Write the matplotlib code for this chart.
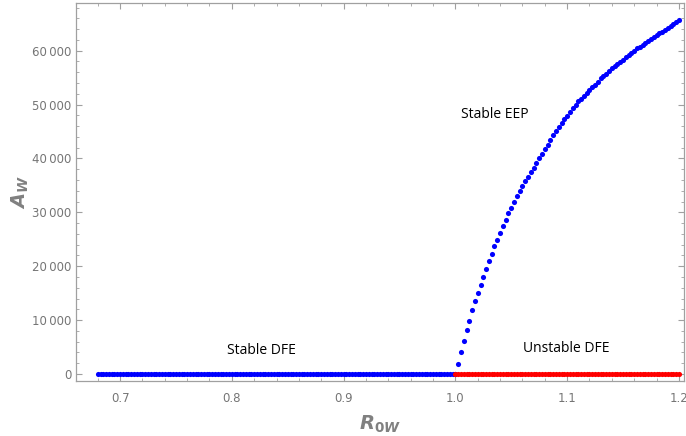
import numpy as np
import matplotlib
matplotlib.use("Agg")
import matplotlib.pyplot as plt
from matplotlib.ticker import MultipleLocator, FuncFormatter

r_step = 0.0025
r_dfe_stable = np.arange(0.68, 1.0 + r_step / 2, r_step)
r_above = np.arange(1.0, 1.2 + r_step / 2, r_step)

# A_W on the disease free branch is zero everywhere
a_dfe_stable = [0] * len(r_dfe_stable)
a_dfe_unstable = [0] * len(r_above)

# A_W on the endemic branch
a_eep = [
    0, 1900, 4000, 6100, 8100, 9900, 11800, 13500, 15000, 16600,
    18000, 19500, 20900, 22300, 23700, 24900, 26200, 27400, 28600, 29800,
    30900, 31900, 32950, 33900, 34850, 35750, 36650, 37450, 38300, 39150,
    40000, 40850, 41700, 42550, 43400, 44300, 45100, 45850, 46600, 47300,
    47950, 48700, 49350, 49980, 50600, 51100, 51650, 52100, 52650, 53200,
    53700, 54200, 54850, 55300, 55750, 56250, 56800, 57200, 57600, 57950,
    58350, 58750, 59100, 59500, 59950, 60400, 60750, 61050, 61400, 61800,
    62200, 62550, 62950, 63250, 63550, 63900, 64250, 64600, 65000, 65350,
    65650,
]

labels = ["Stable DFE", "Stable EEP", "Unstable DFE"]

plt.rcParams["mathtext.fontset"] = "custom"
plt.rcParams["mathtext.it"] = "DejaVu Sans:italic:bold"
plt.rcParams["mathtext.rm"] = "DejaVu Sans:bold"

fig = plt.figure(figsize=(6.86, 4.36), dpi=100)
ax = fig.add_axes([0.111, 0.126, 0.886, 0.867])

ms = 3.7
ax.plot(r_dfe_stable, a_dfe_stable, "o", color="#0000ff", ms=ms, mew=0)
ax.plot(r_above, a_eep, "o", color="#0000ff", ms=ms, mew=0)
ax.plot(r_above, a_dfe_unstable, "o", color="#ff0000", ms=ms, mew=0)

ax.set_xlim(0.6607, 1.2045)
ax.set_ylim(-1300, 68830)

ax.xaxis.set_major_locator(MultipleLocator(0.1))
ax.xaxis.set_minor_locator(MultipleLocator(0.02))
ax.yaxis.set_major_locator(MultipleLocator(10000))
ax.yaxis.set_minor_locator(MultipleLocator(2000))
ax.xaxis.set_major_formatter(FuncFormatter(lambda v, p: f"{v:.1f}"))
ax.yaxis.set_major_formatter(
    FuncFormatter(lambda v, p: f"{int(round(v)):,}".replace(",", "\u2009")))

gray = "#a0a0a0"
for s in ax.spines.values():
    s.set_color(gray)
    s.set_linewidth(0.9)
ax.tick_params(which="both", direction="in", top=True, right=True,
               color=gray, labelcolor="#757575", labelsize=8.5)
ax.tick_params(which="major", length=4, width=0.8)
ax.tick_params(which="minor", length=2, width=0.6)
ax.tick_params(axis="x", pad=8)

ax.set_xlabel(r"$R_{0W}$", fontsize=14, color="#808080", labelpad=6)
ax.set_ylabel(r"$A_W$", fontsize=14, color="#808080", labelpad=1)

tfont = dict(fontsize=10, color="black", family="Open Sans",
             ha="center", va="center")
ax.text(0.8268, 4300, labels[0], **tfont)
ax.text(1.0357, 48200, labels[1], **tfont)
ax.text(1.099, 4800, labels[2], **tfont)

fig.savefig("out.png", dpi=100)
